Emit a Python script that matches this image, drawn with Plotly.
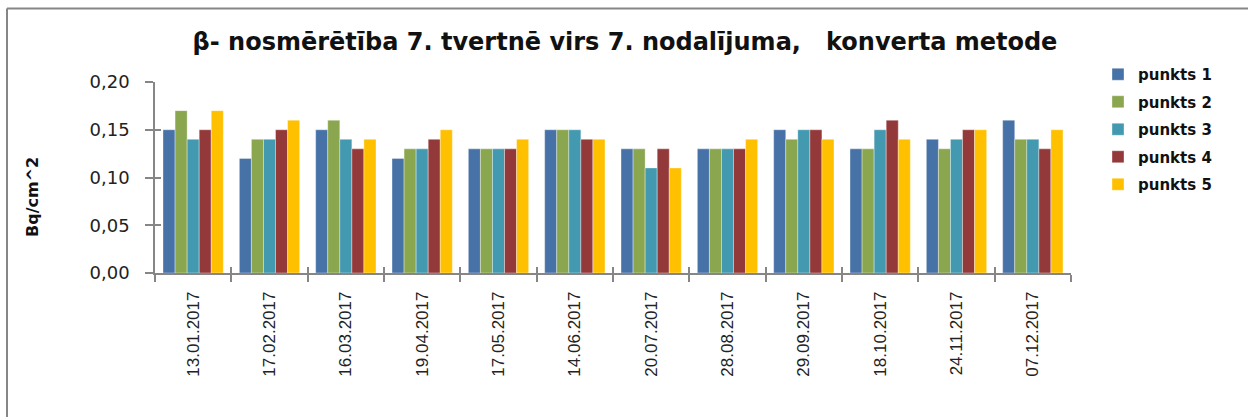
import plotly.graph_objects as go

# Sampling dates (category axis)
dates = ["13.01.2017", "17.02.2017", "16.03.2017", "19.04.2017", "17.05.2017", "14.06.2017",
         "20.07.2017", "28.08.2017", "29.09.2017", "18.10.2017", "24.11.2017", "07.12.2017"]

# Beta surface contamination, Bq/cm^2, per measuring point
punkts_1 = [0.15, 0.12, 0.15, 0.12, 0.13, 0.15, 0.13, 0.13, 0.15, 0.13, 0.14, 0.16]
punkts_2 = [0.17, 0.14, 0.16, 0.13, 0.13, 0.15, 0.13, 0.13, 0.14, 0.13, 0.13, 0.14]
punkts_3 = [0.14, 0.14, 0.14, 0.13, 0.13, 0.15, 0.11, 0.13, 0.15, 0.15, 0.14, 0.14]
punkts_4 = [0.15, 0.15, 0.13, 0.14, 0.13, 0.14, 0.13, 0.13, 0.15, 0.16, 0.15, 0.13]
punkts_5 = [0.17, 0.16, 0.14, 0.15, 0.14, 0.14, 0.11, 0.14, 0.14, 0.14, 0.15, 0.15]

series_names = ["punkts 1", "punkts 2", "punkts 3", "punkts 4", "punkts 5"]
series_values = [punkts_1, punkts_2, punkts_3, punkts_4, punkts_5]
colors = ["#4672A8", "#8AA64F", "#4299B0", "#94393A", "#FFC000"]

y_ticks = [0.0, 0.05, 0.10, 0.15, 0.20]
y_tick_text = ["0,00", "0,05", "0,10", "0,15", "0,20"]

fig = go.Figure()
for name, vals, col in zip(series_names, series_values, colors):
    fig.add_trace(go.Bar(
        x=dates, y=vals, name=name, legendgroup=name,
        marker=dict(color=col, line=dict(color="rgba(255,255,255,0.6)", width=0.6)),
    ))

axis_grey = "#868686"
x_range = [-0.5, len(dates) - 0.5]

# plot area in pixels: left 155, right 1071, top 82, bottom 273
L, R, T, B = 155, 1071, 82, 273
W, H = 1248, 417
pw, ph = R - L, B - T


def px_x(px):
    return (px - L) / pw


def px_y(py):
    return (B - py) / ph


fig.update_layout(
    width=W, height=H,
    margin=dict(l=L, r=W - R, t=T, b=H - B, pad=0),
    paper_bgcolor="white", plot_bgcolor="white",
    barmode="group", bargap=0.21, bargroupgap=0,
    font=dict(family="DejaVu Sans, sans-serif", color="#222222"),
    title=dict(
        text="β- nosmērētība 7. tvertnē virs 7. nodalījuma,   konverta metode",
        x=625 / W, xanchor="center", y=1 - 42 / H, yanchor="middle",
        font=dict(family="DejaVu Sans, sans-serif", size=24, color="#111111", weight="bold"),
    ),
    legend=dict(
        x=px_x(1098), y=px_y(58), xanchor="left", yanchor="top",
        font=dict(family="DejaVu Sans, sans-serif", size=15, color="#111111", weight="bold"),
        traceorder="grouped", tracegroupgap=5,
        itemwidth=30, bgcolor="rgba(0,0,0,0)",
    ),
    xaxis=dict(
        type="category", range=x_range, showline=True, linecolor=axis_grey, linewidth=1.5,
        ticks="outside", ticklen=7, tickcolor=axis_grey, tickwidth=1.5,
        tickson="boundaries", showgrid=False,
        tickangle=-90,
        tickfont=dict(family="Liberation Sans Narrow, Liberation Sans, Arial, sans-serif",
                      size=17, color="#222222"),
        ticklabelstandoff=10,
    ),
    yaxis=dict(
        range=[0, 0.2], tickvals=y_ticks, ticktext=y_tick_text,
        showline=True, linecolor=axis_grey, linewidth=1.5,
        ticks="outside", ticklen=8, tickcolor=axis_grey, tickwidth=1.5,
        showgrid=False, zeroline=False,
        tickfont=dict(family="DejaVu Sans, sans-serif", size=18, color="#222222"),
        ticklabelstandoff=12,
    ),
    # companion axes supplying the inner half of the crossing ticks
    xaxis2=dict(
        type="category", overlaying="x", range=x_range, categoryarray=dates,
        tickson="boundaries", ticks="inside", ticklen=6, tickcolor=axis_grey, tickwidth=1.5,
        showticklabels=False, showgrid=False, showline=False, zeroline=False,
    ),
    yaxis2=dict(
        overlaying="y", range=[0, 0.2], tickvals=y_ticks, showticklabels=False,
        ticks="inside", ticklen=6, tickcolor=axis_grey, tickwidth=1.5,
        showgrid=False, zeroline=False, showline=False,
    ),
    showlegend=True,
)

# invisible trace bringing the companion axes into the layout
fig.add_trace(go.Scatter(x=dates, y=[0] * len(dates), xaxis="x2", yaxis="y2", mode="markers",
                         marker=dict(opacity=0), showlegend=False, hoverinfo="skip"))

# y-axis title
fig.add_annotation(
    text="Bq/cm^2", xref="paper", yref="paper", x=px_x(32), y=px_y(197),
    xanchor="center", yanchor="middle", textangle=-90, showarrow=False,
    font=dict(family="DejaVu Sans, sans-serif", size=16, color="#111111", weight="bold"),
)

# frame around the chart area
fig.add_shape(type="line", xref="paper", yref="paper",
              x0=px_x(7), x1=px_x(7), y0=px_y(8.5), y1=px_y(420),
              line=dict(color=axis_grey, width=2))
fig.add_shape(type="line", xref="paper", yref="paper",
              x0=px_x(7), x1=px_x(1250), y0=px_y(8.5), y1=px_y(8.5),
              line=dict(color=axis_grey, width=2))

fig.write_html("out.html")
